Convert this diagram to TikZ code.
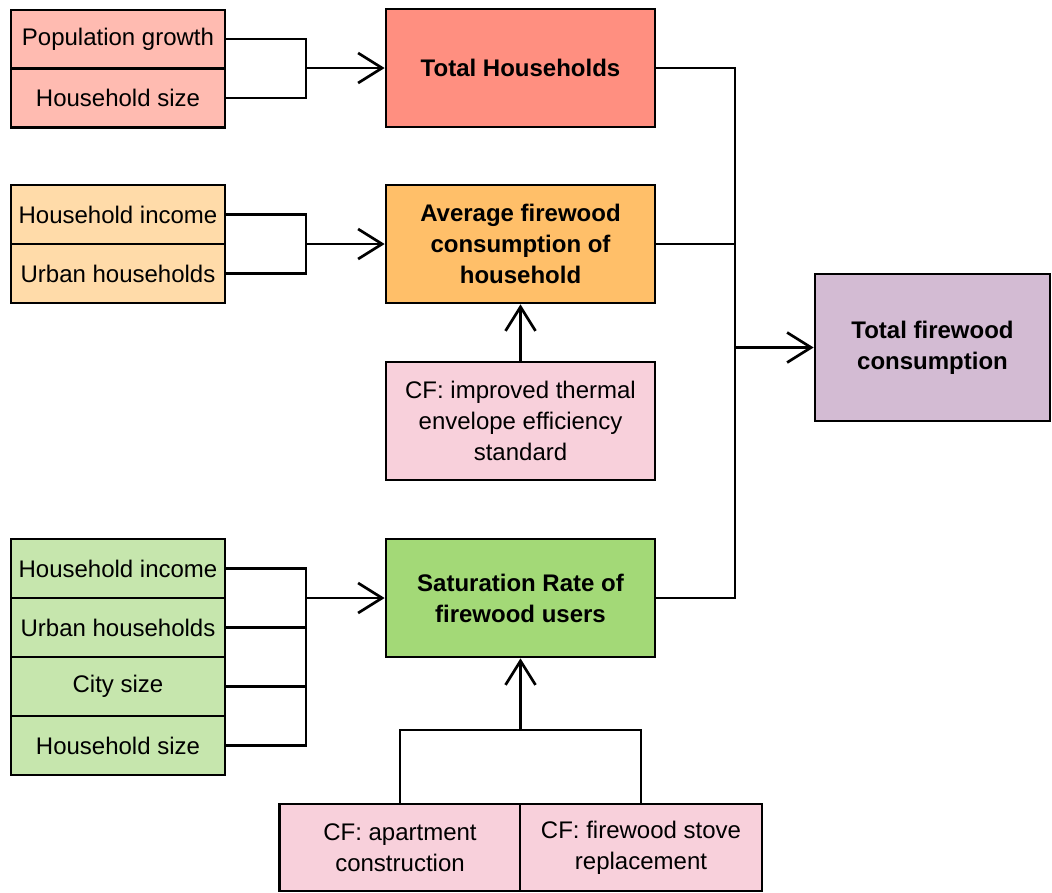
\documentclass[tikz,border=0pt]{standalone}
\usepackage{fontspec}
\setmainfont{Liberation Sans}
\usetikzlibrary{arrows.meta}
\definecolor{pinkL}{HTML}{FFBBB1}
\definecolor{salmon}{HTML}{FF8F80}
\definecolor{peach}{HTML}{FFDBA9}
\definecolor{orangeM}{HTML}{FFBF69}
\definecolor{cfpink}{HTML}{F8D0DB}
\definecolor{greenL}{HTML}{C6E6AD}
\definecolor{greenM}{HTML}{A3D977}
\definecolor{purpleM}{HTML}{D3BBD3}
\tikzset{
  box/.style={draw=black, line width=2.7pt, inner sep=0pt, align=center,
    font=\fontsize{24}{31}\selectfont},
  small/.style={box, minimum width=214pt, minimum height=59pt},
  main/.style={box, minimum width=269pt, minimum height=118pt,
    font=\fontsize{24}{31}\selectfont\bfseries},
  conn/.style={line width=2.7pt, black},
  arr/.style={conn, -{Straight Barb[length=24pt,width=30pt,line width=2.7pt]}}
}
\begin{document}
\begin{tikzpicture}[x=1pt,y=-1pt]
\useasboundingbox (0,0) rectangle (1052,892);
% top group
\node[small, fill=pinkL, minimum height=58pt] (pg) at (118,39) {Population growth};
\node[small, fill=pinkL] (hs1) at (118,98) {Household size};
\node[main, fill=salmon] (th) at (520.5,68) {Total Households};
% second group
\node[small, fill=peach] (hi1) at (118,214.5) {Household income};
\node[small, fill=peach] (uh1) at (118,273.5) {Urban households};
\node[main, fill=orangeM] (avg) at (520.5,244) {Average firewood\\consumption of\\household};
\node[box, fill=cfpink, minimum width=269pt, minimum height=118pt] (cf1) at (520.5,421)
  {CF: improved thermal\\envelope efficiency\\standard};
% total
\node[main, fill=purpleM, minimum width=235pt, minimum height=147pt] (tfc) at (932.5,347.5)
  {Total firewood\\consumption};
% third group
\node[small, fill=greenL] (hi2) at (118,568.5) {Household income};
\node[small, fill=greenL] (uh2) at (118,627.5) {Urban households};
\node[small, fill=greenL] (cs) at (118,686.5) {City size};
\node[small, fill=greenL] (hs2) at (118,745.5) {Household size};
\node[main, fill=greenM] (sat) at (520.5,598) {Saturation Rate of\\firewood users};
\node[box, fill=cfpink, minimum width=241pt, minimum height=87pt] (cfa) at (400,847.5)
  {CF: apartment\\construction};
\node[box, fill=cfpink, minimum width=242pt, minimum height=87pt] (cfs) at (641,847.5)
  {CF: firewood stove\\replacement};
% connectors top
\coordinate (j1) at (306,68);
\draw[conn] (pg.east) -| (j1);
\draw[conn] (hs1.east) -| (j1);
\draw[arr] (j1) -- (th.west);
% connectors second
\coordinate (j2) at (306,244);
\draw[conn] (hi1.east) -| (j2);
\draw[conn] (uh1.east) -| (j2);
\draw[arr] (j2) -- (avg.west);
\draw[arr] (cf1.north) -- (avg.south);
% connectors third
\coordinate (j3) at (306,598);
\draw[conn] (hi2.east) -| (j3);
\draw[conn] (hs2.east) -| (j3);
\draw[conn] (uh2.east) -- (uh2.east -| j3);
\draw[conn] (cs.east) -- (cs.east -| j3);
\draw[arr] (j3) -- (sat.west);
\coordinate (j4) at (520.5,730);
\draw[conn] (cfa.north) |- (j4);
\draw[conn] (cfs.north) |- (j4);
\draw[arr] (j4) -- (sat.south);
% bus to total
\coordinate (bus) at (735,347.5);
\draw[conn] (th.east) -| (bus);
\draw[conn] (sat.east) -| (bus);
\draw[conn] (avg.east) -- (avg.east -| bus);
\draw[arr] (bus) -- (tfc.west);
\end{tikzpicture}
\end{document}
